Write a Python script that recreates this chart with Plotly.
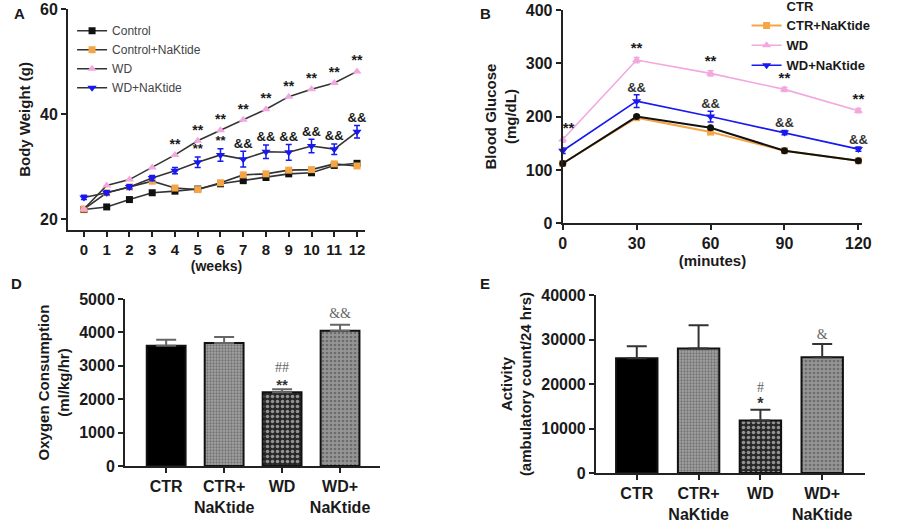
import plotly.graph_objects as go

# ---------------- Data ----------------
# Panel A: body weight (g) by week
weeks = list(range(13))
bw_control = [21.8, 22.3, 23.7, 25.0, 25.3, 25.7, 26.7, 27.3, 27.9, 28.6, 28.8, 30.2, 30.6]
bw_control_nak = [21.9, 25.0, 26.1, 27.2, 25.9, 25.6, 26.9, 28.4, 28.6, 29.3, 29.4, 30.5, 30.1]
bw_wd = [21.9, 26.4, 27.5, 29.8, 32.2, 34.9, 36.9, 38.9, 40.9, 43.3, 44.7, 45.9, 48.1]
bw_wd_nak = [24.1, 25.0, 26.1, 27.8, 29.2, 30.8, 32.2, 31.4, 32.8, 32.7, 33.9, 33.3, 36.6]
bw_wd_nak_err = [0.4, 0.4, 0.4, 0.5, 0.6, 1.0, 1.2, 1.5, 1.3, 1.5, 1.3, 1.0, 1.2]
bw_wd_marks = ["", "", "", "", "**", "**", "**", "**", "**", "**", "**", "**", "**"]
bw_wd_nak_marks = ["", "", "", "", "", "**", "**", "&&", "&&", "&&", "&&", "&&", "&&"]

# Panel B: glucose tolerance (mg/dL)
minutes = [0, 30, 60, 90, 120]
gl_ctr = [112, 200, 179, 136, 117]
gl_ctr_nak = [112, 198, 171, 136, 117]
gl_wd = [157, 306, 281, 251, 211]
gl_wd_err = [5, 5, 5, 4, 4]
gl_wd_nak = [136, 229, 200, 170, 139]
gl_wd_nak_err = [5, 12, 10, 4, 4]
gl_wd_marks = ["**", "**", "**", "**", "**"]
gl_wd_nak_marks = ["", "&&", "&&", "&&", "&&"]

# Panels D & E: bars
groups = ["CTR", "CTR+<br>NaKtide", "WD", "WD+<br>NaKtide"]
o2 = [3600, 3680, 2210, 4050]
o2_err = [180, 180, 90, 180]
o2_marks_hash = ["", "", "##", ""]
o2_marks_amp = ["", "", "", "&&"]
o2_marks_star = ["", "", "**", ""]
act = [25800, 28000, 11800, 26000]
act_err = [2700, 5200, 2400, 3000]
act_marks_hash = ["", "", "#", ""]
act_marks_amp = ["", "", "", "&"]
act_marks_star = ["", "", "*", ""]

# ---------------- Styles ----------------
BLACK = "#111111"
ORANGE = "#f5a446"
PINK = "#f2a8de"
BLUE = "#1818f0"
LINE_A = "#333333"
FONT = "Liberation Sans"
SERIF = "Liberation Serif"
TXT = "#1a1a1a"

fig = go.Figure()

def marks(x, y, text, xa, ya, font, pos="middle center"):
    return go.Scatter(x=x, y=y, text=text, mode="text", textposition=pos, textfont=font,
                      showlegend=False, hoverinfo="skip", xaxis=xa, yaxis=ya, cliponaxis=False)

# ---- Panel A ----
fig.add_trace(go.Scatter(x=weeks, y=bw_control, name="Control", mode="lines+markers",
                         line=dict(color=LINE_A, width=1.6),
                         marker=dict(symbol="square", size=7, color=BLACK),
                         xaxis="x", yaxis="y", legend="legend", cliponaxis=False))
fig.add_trace(go.Scatter(x=weeks, y=bw_control_nak, name="Control+NaKtide", mode="lines+markers",
                         line=dict(color=LINE_A, width=1.6),
                         marker=dict(symbol="square", size=7, color=ORANGE),
                         xaxis="x", yaxis="y", legend="legend", cliponaxis=False))
fig.add_trace(go.Scatter(x=weeks, y=bw_wd, name="WD", mode="lines+markers",
                         line=dict(color=LINE_A, width=1.6),
                         marker=dict(symbol="triangle-up", size=8, color=PINK),
                         xaxis="x", yaxis="y", legend="legend", cliponaxis=False))
fig.add_trace(go.Scatter(x=weeks, y=bw_wd_nak, name="WD+NaKtide", mode="lines+markers",
                         line=dict(color=LINE_A, width=1.6),
                         marker=dict(symbol="triangle-down", size=8, color=BLUE),
                         error_y=dict(type="data", array=bw_wd_nak_err, color=BLUE, thickness=1.5, width=3),
                         xaxis="x", yaxis="y", legend="legend", cliponaxis=False))
fig.add_trace(marks(weeks, [v + 1.8 for v in bw_wd], bw_wd_marks, "x", "y",
                    dict(family=FONT, size=14, color=TXT, weight="bold")))
fig.add_trace(marks(weeks, [v + e + 1.3 for v, e in zip(bw_wd_nak, bw_wd_nak_err)], bw_wd_nak_marks, "x", "y",
                    dict(family=FONT, size=13, color=TXT, weight="bold")))

# ---- Panel B ----
fig.add_trace(go.Scatter(x=[None], y=[None], name="CTR", mode="lines",
                         line=dict(color="rgba(0,0,0,0)"), xaxis="x2", yaxis="y2", legend="legend2"))
fig.add_trace(go.Scatter(x=minutes, y=gl_ctr_nak, name="CTR+NaKtide", mode="lines+markers",
                         line=dict(color=ORANGE, width=2),
                         marker=dict(symbol="square", size=7, color=ORANGE),
                         xaxis="x2", yaxis="y2", legend="legend2", cliponaxis=False))
fig.add_trace(go.Scatter(x=minutes, y=gl_wd, name="WD", mode="lines+markers",
                         line=dict(color=PINK, width=1.6),
                         marker=dict(symbol="triangle-up", size=8, color=PINK),
                         error_y=dict(type="data", array=gl_wd_err, color=PINK, thickness=1.5, width=3),
                         xaxis="x2", yaxis="y2", legend="legend2", cliponaxis=False))
fig.add_trace(go.Scatter(x=minutes, y=gl_wd_nak, name="WD+NaKtide", mode="lines+markers",
                         line=dict(color=BLUE, width=1.6),
                         marker=dict(symbol="triangle-down", size=8, color=BLUE),
                         error_y=dict(type="data", array=gl_wd_nak_err, color=BLUE, thickness=1.5, width=3),
                         xaxis="x2", yaxis="y2", legend="legend2", cliponaxis=False))
fig.add_trace(go.Scatter(x=minutes, y=gl_ctr, name="CTR", mode="lines+markers",
                         line=dict(color=BLACK, width=2),
                         marker=dict(symbol="circle", size=7, color=BLACK),
                         xaxis="x2", yaxis="y2", showlegend=False, cliponaxis=False))
fig.add_trace(marks(minutes, [v + e + 15 for v, e in zip(gl_wd, gl_wd_err)], gl_wd_marks, "x2", "y2",
                    dict(family=FONT, size=15, color=TXT, weight="bold"),
                    pos=["middle right"] + ["middle center"] * 4))
fig.add_trace(marks(minutes, [v + e + 12 for v, e in zip(gl_wd_nak, gl_wd_nak_err)], gl_wd_nak_marks, "x2", "y2",
                    dict(family=FONT, size=13, color="#333", weight="bold")))

# ---- Bars (D & E) ----
pat_shape = ["", ".", ".", "."]
pat_bg = ["#000000", "#a3a3a3", "#262626", "#959595"]
pat_fg = ["#000000", "#7c7c7c", "#b5b5b5", "#dcdcdc"]
pat_size = [4, 3, 5, 4]
pat_sol = [0.3, 0.45, 0.4, 0.35]

def bar(y, err, xa, ya, errcolor, capw):
    return go.Bar(x=groups, y=y, width=0.67,
                  marker=dict(color=pat_bg, line=dict(color="#111", width=2),
                              pattern=dict(shape=pat_shape, bgcolor=pat_bg, fgcolor=pat_fg,
                                           size=pat_size, solidity=pat_sol)),
                  error_y=dict(type="data", array=err, arrayminus=[0] * len(err), symmetric=False,
                               color=errcolor, thickness=2, width=capw),
                  xaxis=xa, yaxis=ya, showlegend=False, hoverinfo="skip")

serif_font = dict(family=SERIF, size=14, color="#666")
star_font = dict(family=FONT, size=15, color="#333", weight="bold")

fig.add_trace(bar(o2, o2_err, "x3", "y3", "#666666", 10))
fig.add_trace(marks(groups, [v + e + 620 for v, e in zip(o2, o2_err)], o2_marks_hash, "x3", "y3", serif_font))
fig.add_trace(marks(groups, [v + e + 300 for v, e in zip(o2, o2_err)], o2_marks_amp, "x3", "y3", serif_font))
fig.add_trace(marks(groups, [v + e + 90 for v, e in zip(o2, o2_err)], o2_marks_star, "x3", "y3", star_font))

fig.add_trace(bar(act, act_err, "x4", "y4", "#333333", 10))
fig.add_trace(marks(groups, [v + e + 4900 for v, e in zip(act, act_err)], act_marks_hash, "x4", "y4", serif_font))
fig.add_trace(marks(groups, [v + e + 1800 for v, e in zip(act, act_err)], act_marks_amp, "x4", "y4", serif_font))
fig.add_trace(marks(groups, [v + e + 1000 for v, e in zip(act, act_err)], act_marks_star, "x4", "y4",
                    dict(family=FONT, size=16, color="#333", weight="bold")))

# ---------------- Layout ----------------
tickfont = dict(family=FONT, size=16, color=TXT, weight="bold")
titlefont = dict(family=FONT, size=15, color=TXT, weight="bold")
axcommon = dict(showline=True, linecolor="#222", linewidth=2, ticks="outside", ticklen=5,
                tickwidth=2, tickcolor="#222", showgrid=False, zeroline=False,
                fixedrange=True, tickformat="d", automargin=False)

fig.update_layout(
    width=924, height=524, margin=dict(l=0, r=0, t=0, b=0, autoexpand=False),
    paper_bgcolor="white", plot_bgcolor="white",
    font=dict(family=FONT, color=TXT),
    xaxis=dict(domain=[0.0736, 0.395], range=[-0.7, 12.35], tickvals=weeks, anchor="y",
               title=dict(text="(weeks)", font=dict(family=FONT, size=14, color=TXT, weight="bold"), standoff=0),
               tickfont=dict(family=FONT, size=15, color=TXT, weight="bold"), **axcommon),
    yaxis=dict(domain=[0.561, 0.983], range=[17.9, 60], tickvals=[20, 40, 60], anchor="x",
               title=dict(text="Body Weight (g)", font=titlefont, standoff=6), tickfont=tickfont, **axcommon),
    xaxis2=dict(domain=[0.609, 0.933], range=[0, 121.5], tickvals=minutes, anchor="y2",
                title=dict(text="(minutes)", font=titlefont, standoff=2), tickfont=tickfont, **axcommon),
    yaxis2=dict(domain=[0.574, 0.981], range=[0, 400], tickvals=[0, 100, 200, 300, 400], anchor="x2",
                title=dict(text="Blood Glucose<br>(mg/dL)", font=titlefont, standoff=6), tickfont=tickfont,
                **axcommon),
    xaxis3=dict(domain=[0.1353, 0.4113], range=[-0.71, 3.69], anchor="y3", type="category",
                tickfont=tickfont, **axcommon),
    yaxis3=dict(domain=[0.1107, 0.4294], range=[0, 5000], tickvals=[0, 1000, 2000, 3000, 4000, 5000],
                anchor="x3", title=dict(text="Oxygen Consumption<br>(ml/kg/hr)", font=titlefont, standoff=6),
                tickfont=tickfont, **axcommon),
    xaxis4=dict(domain=[0.645, 0.936], range=[-0.66, 3.69], anchor="y4", type="category",
                tickfont=tickfont, **axcommon),
    yaxis4=dict(domain=[0.0973, 0.437], range=[0, 40000], tickvals=[0, 10000, 20000, 30000, 40000],
                anchor="x4", title=dict(text="Activity<br>(ambulatory count/24 hrs)", font=titlefont, standoff=6),
                tickfont=tickfont, **axcommon),
    legend=dict(x=0.078, y=0.969, xanchor="left", yanchor="top", bgcolor="rgba(0,0,0,0)",
                font=dict(family=FONT, size=12, color="#444")),
    legend2=dict(x=0.808, y=1.018, xanchor="left", yanchor="top", bgcolor="rgba(0,0,0,0)",
                 font=dict(family=FONT, size=13, color=TXT, weight="bold")),
    bargap=0.3,
)

for txt, px, py in [("A", 12, 14), ("B", 478, 14), ("D", 9, 283), ("E", 478, 283)]:
    fig.add_annotation(text=txt, x=px / 924, y=1 - py / 524, xref="paper", yref="paper",
                       showarrow=False, xanchor="left", yanchor="middle",
                       font=dict(family=FONT, size=15, color=TXT, weight="bold"))

fig.write_html("out.html")
